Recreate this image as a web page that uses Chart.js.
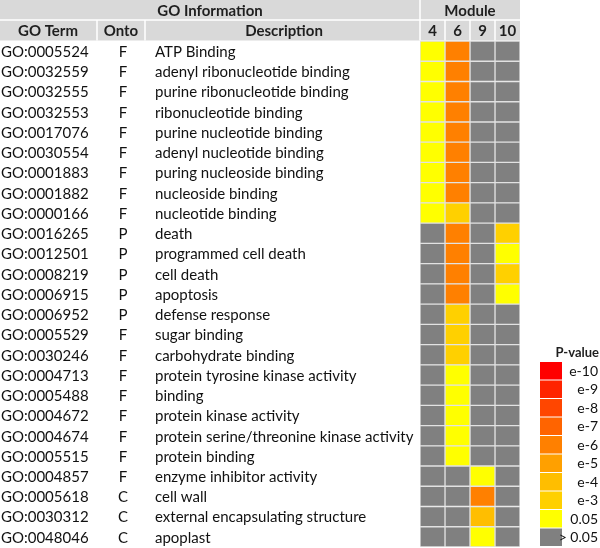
<!DOCTYPE html>
<html>
<head>
<meta charset="utf-8">
<script src="https://cdn.jsdelivr.net/npm/chart.js@4.4.1/dist/chart.umd.min.js"></script>
<style>
html,body{margin:0;padding:0;background:#fff;}
canvas{display:block;}
</style>
</head>
<body>
<canvas id="c" width="600" height="548"></canvas>
<script>
// ---- data ----
const modules = ['4', '6', '9', '10'];
const goTerms = ['GO:0005524','GO:0032559','GO:0032555','GO:0032553','GO:0017076','GO:0030554','GO:0001883','GO:0001882','GO:0000166','GO:0016265','GO:0012501','GO:0008219','GO:0006915','GO:0006952','GO:0005529','GO:0030246','GO:0004713','GO:0005488','GO:0004672','GO:0004674','GO:0005515','GO:0004857','GO:0005618','GO:0030312','GO:0048046'];
const ontology = ['F','F','F','F','F','F','F','F','F','P','P','P','P','P','F','F','F','F','F','F','F','F','C','C','C'];
const descriptions = ['ATP Binding','adenyl ribonucleotide binding','purine ribonucleotide binding','ribonucleotide binding','purine nucleotide binding','adenyl nucleotide binding','puring nucleoside binding','nucleoside binding','nucleotide binding','death','programmed cell death','cell death','apoptosis','defense response','sugar binding','carbohydrate binding','protein tyrosine kinase activity','binding','protein kinase activity','protein serine/threonine kinase activity','protein binding','enzyme inhibitor activity','cell wall','external encapsulating structure','apoplast'];
// P-value class per GO term for each module
const module4  = ['0.05','0.05','0.05','0.05','0.05','0.05','0.05','0.05','0.05','>0.05','>0.05','>0.05','>0.05','>0.05','>0.05','>0.05','>0.05','>0.05','>0.05','>0.05','>0.05','>0.05','>0.05','>0.05','>0.05'];
const module6  = ['e-6','e-6','e-6','e-6','e-6','e-6','e-6','e-6','e-3','e-6','e-6','e-6','e-6','e-3','e-3','e-3','0.05','0.05','0.05','0.05','0.05','>0.05','>0.05','>0.05','>0.05'];
const module9  = ['>0.05','>0.05','>0.05','>0.05','>0.05','>0.05','>0.05','>0.05','>0.05','>0.05','>0.05','>0.05','>0.05','>0.05','>0.05','>0.05','>0.05','>0.05','>0.05','>0.05','>0.05','0.05','e-6','e-4','0.05'];
const module10 = ['>0.05','>0.05','>0.05','>0.05','>0.05','>0.05','>0.05','>0.05','>0.05','e-3','0.05','e-3','0.05','>0.05','>0.05','>0.05','>0.05','>0.05','>0.05','>0.05','>0.05','>0.05','>0.05','>0.05','>0.05'];
const legendKeys   = ['e-10','e-9','e-8','e-7','e-6','e-5','e-4','e-3','0.05','>0.05'];
const legendLabels = ['e-10','e-9','e-8','e-7','e-6','e-5','e-4','e-3','0.05','> 0.05'];
const legendColors = ['#FF0000','#FF2400','#FF4600','#FF6400','#FF8000','#FFA000','#FFBE00','#FFD000','#FFFF00','#808080'];

const moduleValues = [module4, module6, module9, module10];
const colorOf = k => legendColors[legendKeys.indexOf(k)];

const FONT = 'Lato, "Open Sans", sans-serif';
const LINE = '#E2E2E2';
const HEAD_BG = '#D9D9D9';

const datasets = modules.map((m, i) => ({
  label: 'Module ' + m,
  data: goTerms.map(() => 1),
  backgroundColor: moduleValues[i].map(colorOf),
  borderColor: LINE,
  borderWidth: 1,
  borderSkipped: false,
  barPercentage: 1,
  categoryPercentage: 1
}));

const tablePlugin = {
  id: 'tablePlugin',
  afterDraw(chart) {
    const ctx = chart.ctx;
    const ca = chart.chartArea;
    const xs = chart.scales.x, ys = chart.scales.y;
    const rowMid = 20, rowBot = ca.top - 0.5;
    ctx.save();
    // header background
    ctx.fillStyle = HEAD_BG;
    ctx.fillRect(0, 0, ca.right, rowBot);
    ctx.strokeStyle = '#FFFFFF';
    ctx.lineWidth = 1.5;
    ctx.beginPath();
    ctx.moveTo(0, rowMid); ctx.lineTo(ca.right, rowMid);
    ctx.moveTo(ca.left, 0); ctx.lineTo(ca.left, rowBot);
    ctx.moveTo(97, rowMid); ctx.lineTo(97, rowBot);
    ctx.moveTo(145, rowMid); ctx.lineTo(145, rowBot);
    for (let i = 1; i < modules.length; i++) {
      const x = xs.getPixelForValue(i);
      ctx.moveTo(x, rowMid); ctx.lineTo(x, rowBot);
    }
    ctx.stroke();
    ctx.fillStyle = '#1F1F1F';
    ctx.font = 'bold 15px ' + FONT;
    ctx.textAlign = 'center';
    ctx.textBaseline = 'middle';
    ctx.fillText('GO Information', ca.left / 2, rowMid / 2 + 1);
    ctx.fillText('Module', (ca.left + ca.right) / 2, rowMid / 2 + 1);
    const h2 = (rowMid + rowBot) / 2 + 1;
    ctx.fillText('GO Term', 48, h2);
    ctx.fillText('Onto', 121, h2);
    ctx.fillText('Description', 284, h2);
    modules.forEach((m, i) => {
      ctx.fillText(m, (xs.getPixelForValue(i) + xs.getPixelForValue(i + 1)) / 2, h2);
    });
    // rows
    ctx.font = '15px ' + FONT;
    ctx.fillStyle = '#111111';
    goTerms.forEach((t, i) => {
      const y = ys.getPixelForValue(i) + 1;
      ctx.textAlign = 'left';
      ctx.fillText(t, 1, y);
      ctx.textAlign = 'center';
      ctx.fillText(ontology[i], 123, y);
      ctx.textAlign = 'left';
      ctx.fillText(descriptions[i], 155, y);
    });
    // legend
    const lx = 540, lw = 22, ly0 = 362, lh = 18.5;
    ctx.font = 'bold 13px ' + FONT;
    ctx.textAlign = 'right';
    ctx.fillStyle = '#1F1F1F';
    ctx.fillText('P-value', 599, 353);
    ctx.font = '14px ' + FONT;
    legendLabels.forEach((l, k) => {
      const y = ly0 + k * lh;
      ctx.fillStyle = legendColors[k];
      ctx.fillRect(lx, y, lw, lh - 1);
      ctx.fillStyle = '#111111';
      ctx.fillText(l, 598, y + lh / 2);
    });
    ctx.restore();
  }
};

new Chart(document.getElementById('c'), {
  type: 'bar',
  data: { labels: goTerms, datasets },
  options: {
    responsive: false,
    animation: false,
    indexAxis: 'y',
    layout: { padding: { left: 420, right: 80, top: 41, bottom: 1 } },
    plugins: { legend: { display: false }, tooltip: { enabled: false } },
    scales: {
      x: { stacked: true, min: 0, max: modules.length, display: false },
      y: { stacked: true, display: false }
    }
  },
  plugins: [tablePlugin]
});
</script>
</body>
</html>
